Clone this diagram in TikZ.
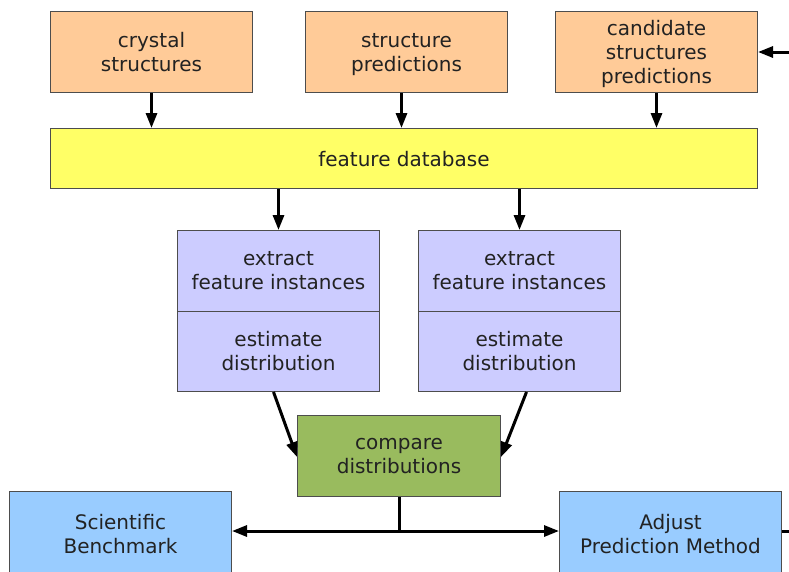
\documentclass[tikz,border=0pt]{standalone}
\usepackage{fontspec}
\setmainfont{DejaVu Sans}
\usetikzlibrary{arrows.meta, positioning}

\definecolor{srcorange}{HTML}{FFCB98}
\definecolor{dbyellow}{HTML}{FFFF66}
\definecolor{steplilac}{HTML}{CCCCFF}
\definecolor{cmpgreen}{HTML}{99BB5E}
\definecolor{outblue}{HTML}{99CCFF}
\definecolor{boxline}{HTML}{4D4D4D}
\definecolor{boxtext}{HTML}{222222}

\begin{document}
\begin{tikzpicture}[
		x=1pt, y=-1pt,
		font=\fontsize{20}{24}\selectfont,
		% Style for every box
		box/.style={
			draw=boxline, line width=1pt, text=boxtext,
			align=center, inner sep=0pt, text depth=0pt, anchor=north west
		},
		src/.style={box, fill=srcorange, minimum width=202pt, minimum height=81pt},
		db/.style={box, fill=dbyellow, minimum width=707pt, minimum height=60pt},
		stepbox/.style={box, fill=steplilac, minimum width=202pt, minimum height=80.5pt},
		cmp/.style={box, fill=cmpgreen, minimum width=203pt, minimum height=81pt},
		result/.style={box, fill=outblue, minimum width=222pt, minimum height=84pt},
		% Connectors
		flow/.style={line width=3pt, -{Triangle[length=15pt, width=11pt]}},
		wire/.style={line width=3pt}
		]
		
		\clip (0,0) rectangle (789,571);
		
		% --- sources ---
		\node[src] (crystal) at (50,11) {crystal\\structures};
		\node[src] (pred) at (305,11) {structure\\predictions};
		\node[src] (cand) at (555,11) {candidate\\structures\\predictions};
		
		% --- database ---
		\node[db] (fdb) at (50,128) {feature database};
		
		% --- the two branches ---
		\node[stepbox] (extL) at (177,230) {extract\\feature instances};
		\node[stepbox] (estL) at (177,310.5) {estimate\\distribution};
		\node[stepbox] (extR) at (418,230) {extract\\feature instances};
		\node[stepbox] (estR) at (418,310.5) {estimate\\distribution};
		
		% --- comparison and outcomes ---
		\node[cmp] (comp) at (297,415) {compare\\distributions};
		\node[result] (bench) at (9,491) {Scientific\\Benchmark};
		\node[result] (adjust) at (559,491) {Adjust\\Prediction Method};
		
		\coordinate (split) at (comp.south |- 0,531);
		\coordinate (loopin) at (789,52);
		\coordinate (loopout) at (789,531);
		
		% --- arrows ---
		\draw[flow] (crystal.south) -- (crystal.south |- fdb.north);
		\draw[flow] ([xshift=-5pt]pred.south) -- ([xshift=-5pt]pred.south |- fdb.north);
		\draw[flow] (cand.south) -- (cand.south |- fdb.north);
		\draw[flow] (extL.north |- fdb.south) -- (extL.north);
		\draw[flow] (extR.north |- fdb.south) -- (extR.north);
		\draw[flow] ([xshift=-5pt]estL.south) -- ([yshift=-1pt]comp.west);
		\draw[flow] ([xshift=7pt]estR.south) -- ([yshift=-1pt]comp.east);
		\draw[wire] (comp.south) -- (split);
		\draw[flow] (split) -- (split -| bench.east);
		\draw[flow] (split) -- (split -| adjust.west);
		\draw[wire] (split -| adjust.east) -- (loopout);
		\draw[flow] (loopin) -- (cand.east);
		
	\end{tikzpicture}
\end{document}
